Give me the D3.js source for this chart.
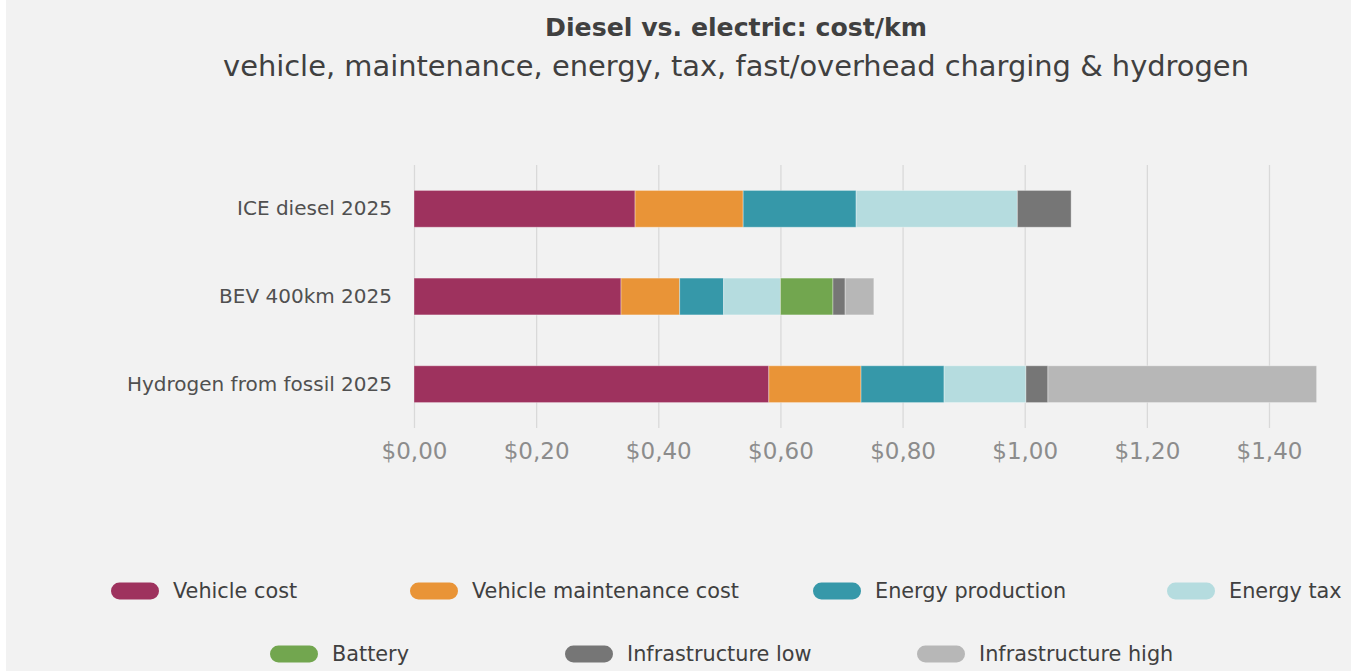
<!DOCTYPE html>
<html>
<head>
<meta charset="utf-8">
<script src="https://cdn.jsdelivr.net/npm/d3@7"></script>
<style>
  html, body { margin: 0; padding: 0; background: #fff; }
  svg { display: block; }
  text { font-family: "DejaVu Sans", sans-serif; }
</style>
</head>
<body>
<svg id="chart" width="1351" height="671"></svg>
<script>
// data ($/km)
var categories = ["ICE diesel 2025", "BEV 400km 2025", "Hydrogen from fossil 2025"];
var seriesNames = ["Vehicle cost", "Vehicle maintenance cost", "Energy production", "Energy tax",
                   "Battery", "Infrastructure low", "Infrastructure high"];
var vehicleCost      = [0.362, 0.339, 0.581];
var maintenanceCost  = [0.177, 0.096, 0.151];
var energyProduction = [0.185, 0.072, 0.136];
var energyTax        = [0.264, 0.093, 0.134];
var battery          = [0.000, 0.086, 0.000];
var infraLow         = [0.088, 0.020, 0.036];
var infraHigh        = [0.000, 0.047, 0.440];
var tickValues = [0, 0.2, 0.4, 0.6, 0.8, 1.0, 1.2, 1.4];

var colors = ["#9e325e", "#e99437", "#3698a9", "#b5dcdf", "#72a64f", "#767676", "#b7b7b7"];

var App = {};

App.main = function() {
  App.svg = d3.select('#chart');

  App.svg.append('rect')
    .attr('x', 6).attr('y', 0)
    .attr('width', 1345).attr('height', 671)
    .attr('fill', '#f2f2f2');

  App.svg.append('text')
    .attr('x', 736).attr('y', 36)
    .attr('text-anchor', 'middle')
    .attr('font-size', 25.2).attr('font-weight', 'bold')
    .attr('fill', '#404040')
    .text('Diesel vs. electric: cost/km');

  App.svg.append('text')
    .attr('x', 736).attr('y', 76)
    .attr('text-anchor', 'middle')
    .attr('font-size', 28.9)
    .attr('fill', '#404040')
    .text('vehicle, maintenance, energy, tax, fast/overhead charging & hydrogen');

  App.x = d3.scaleLinear().domain([0, 1.4]).range([414, 1269]);
  App.y = d3.scaleBand().domain(categories).range([165, 428]).paddingInner(0.58).paddingOuter(0.29);

  App.initGrid();
  App.initBars();
  App.initLegend();
};

App.initGrid = function() {
  var axis = d3.axisBottom(App.x)
    .tickValues(tickValues)
    .tickSize(-(428 - 165))
    .tickPadding(15)
    .tickFormat(function(d) { return '$' + d.toFixed(2).replace('.', ','); });

  var g = App.svg.append('g')
    .attr('transform', 'translate(0,428)')
    .call(axis);
  g.select('.domain').remove();
  g.selectAll('.tick line').attr('stroke', '#d9d9d9').attr('stroke-width', 1.3);
  g.selectAll('.tick text')
    .attr('fill', '#8c8c8c')
    .attr('font-size', 23)
    .attr('font-family', '"DejaVu Sans", sans-serif');

  var yAxis = d3.axisLeft(App.y).tickSize(0).tickPadding(22);
  var gy = App.svg.append('g')
    .attr('transform', 'translate(414,0)')
    .call(yAxis);
  gy.select('.domain').remove();
  gy.selectAll('.tick text')
    .attr('fill', '#505050')
    .attr('font-size', 20)
    .attr('font-family', '"DejaVu Sans", sans-serif');
};

App.initBars = function() {
  var seriesValues = [vehicleCost, maintenanceCost, energyProduction, energyTax, battery, infraLow, infraHigh];
  var rows = categories.map(function(c, i) {
    var row = { category: c };
    seriesNames.forEach(function(s, j) { row[s] = seriesValues[j][i]; });
    return row;
  });
  var stacked = d3.stack().keys(seriesNames)(rows);

  App.svg.append('g').selectAll('g')
    .data(stacked)
    .enter().append('g')
    .attr('fill', function(d, i) { return colors[i]; })
    .selectAll('rect')
    .data(function(d) { return d.filter(function(p) { return p[1] - p[0] > 0; }); })
    .enter().append('rect')
    .attr('x', function(d) { return App.x(d[0]); })
    .attr('width', function(d) { return App.x(d[1]) - App.x(d[0]); })
    .attr('y', function(d) { return App.y(d.data.category); })
    .attr('height', App.y.bandwidth())
    .attr('stroke', 'rgba(255,255,255,0.35)')
    .attr('stroke-width', 1);
};

App.initLegend = function() {
  // swatch positions (layout only)
  var slots = [[111, 591], [410, 591], [813, 591], [1167, 591],
               [270, 654], [565, 654], [917, 654]];

  var items = App.svg.append('g').selectAll('g')
    .data(seriesNames)
    .enter().append('g')
    .attr('transform', function(d, i) { return 'translate(' + slots[i][0] + ',' + slots[i][1] + ')'; });

  items.append('rect')
    .attr('x', 0).attr('y', -8.5)
    .attr('width', 48).attr('height', 17)
    .attr('rx', 8.5).attr('ry', 8.5)
    .attr('fill', function(d, i) { return colors[i]; });

  items.append('text')
    .attr('x', 62).attr('y', 0)
    .attr('dy', '0.35em')
    .attr('font-size', 20.8)
    .attr('fill', '#404040')
    .text(function(d) { return d; });
};

App.main();
</script>
</body>
</html>
